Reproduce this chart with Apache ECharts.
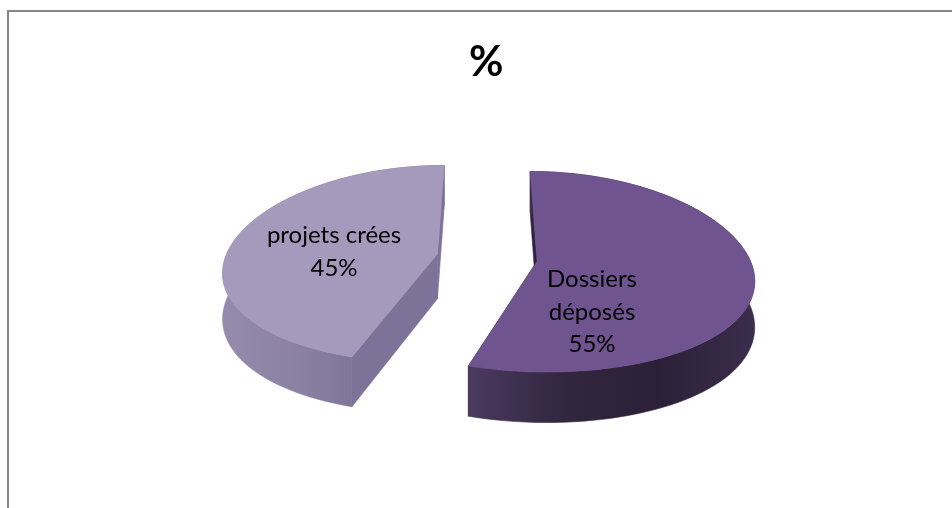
<!DOCTYPE html>
<html><head><meta charset="utf-8">
<script src="https://cdn.jsdelivr.net/npm/echarts@6/dist/echarts.min.js"></script>
<style>html,body{margin:0;padding:0;background:#fff}#c{width:952px;height:508px}</style>
</head><body><div id="c"></div>
<script>
const titleText = '%';
const categories = ['Dossiers\ndéposés', 'projets crées'];
const values = [55, 45];

const FONT = 'Lato, "Open Sans", sans-serif';
const CX = 487, CY = 257.5, R = 212, B = 98.4, K = 0.105, KX = 0.16, DEPTH = 45, EXPLODE = 0.238;
const labelAt = [[592, 312], [334, 252]];
const looks = [
  {top: '#6f5490', cut: '#2f2340', wall: ['#4a3a60', '#33263f', '#2c2038', '#3b2d4c']},
  {top: '#a599bc', cut: '#7d7298', wall: ['#958bac', '#8b81a3', '#7c7295', '#7a7094']}
];
const total = values.reduce((a, b) => a + b, 0);

function project(u, v, lift) {
  const w = 1 + K * v, wx = 1 + KX * v;
  return [CX + R * u / wx, CY - B * v / w + (lift ? DEPTH / w : 0)];
}
function sliceGeom(i) {
  let before = 0;
  for (let k = 0; k < i; k++) before += values[k];
  const a0 = before / total * 2 * Math.PI;
  const a1 = (before + values[i]) / total * 2 * Math.PI;
  const mid = (a0 + a1) / 2;
  const ex = EXPLODE * Math.sin(mid), ey = EXPLODE * Math.cos(mid);
  const steps = 90, arc = [];
  for (let s = 0; s <= steps; s++) {
    const a = a0 + (a1 - a0) * s / steps;
    arc.push([ex + Math.sin(a), ey + Math.cos(a)]);
  }
  return {apex: [ex, ey], arc};
}
function renderItem(params, api) {
  const i = api.value(0);
  const g = sliceGeom(i), look = looks[i];
  const P = p => project(p[0], p[1], false), Q = p => project(p[0], p[1], true);
  const topPts = [P(g.apex)].concat(g.arc.map(P));
  const arcTop = g.arc.map(P), arcBot = g.arc.map(Q);
  const first = g.arc[0], last = g.arc[g.arc.length - 1];
  const wallPts = arcTop.concat(arcBot.slice().reverse());
  const grad = {type: 'linear', x: 0, y: 0, x2: 1, y2: 0, global: false,
    colorStops: look.wall.map((c, k) => ({offset: k / (look.wall.length - 1), color: c}))};
  const poly = (points, fill, z2) => ({type: 'polygon', z2, shape: {points},
    style: {fill, stroke: fill, lineWidth: 0.6}});
  return {type: 'group', children: [
    poly([P(g.apex), P(first), Q(first), Q(g.apex)], look.cut, 1),
    poly([P(g.apex), P(last), Q(last), Q(g.apex)], look.cut, 1),
    poly(wallPts, grad, 2),
    poly(topPts, look.top, 3),
    {type: 'text', z2: 5, style: {
      x: labelAt[i][0], y: labelAt[i][1],
      text: categories[i] + '\n' + values[i] + '%',
      fill: '#000', font: '24px ' + FONT, lineHeight: 32.5,
      align: 'center', verticalAlign: 'middle'}}
  ]};
}

const chart = echarts.init(document.getElementById('c'), null, {renderer: 'canvas'});
chart.setOption({
  animation: false,
  backgroundColor: '#fff',
  title: {text: titleText, left: 464, top: 36,
    textStyle: {fontFamily: FONT, fontWeight: 'bold', fontSize: 42, color: '#000'}},
  graphic: [
    {type: 'line', shape: {x1: 8, y1: 11, x2: 952, y2: 11}, style: {stroke: '#868686', lineWidth: 2}},
    {type: 'line', shape: {x1: 8, y1: 10, x2: 8, y2: 508}, style: {stroke: '#868686', lineWidth: 2}}
  ],
  series: [{
    type: 'custom',
    coordinateSystem: 'none',
    renderItem,
    data: values.map((v, i) => [i, v])
  }]
});
</script></body></html>
